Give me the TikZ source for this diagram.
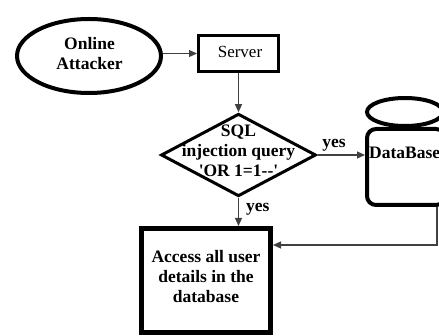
\documentclass[tikz,border=0pt]{standalone}
\usepackage{fontspec}
\setmainfont{Liberation Serif}
\usetikzlibrary{shapes.geometric,arrows.meta}
\tikzset{
  txt/.style={font=\fontsize{17.5}{20}\selectfont\bfseries, align=center, inner sep=0pt},
  plain/.style={font=\fontsize{17}{20}\selectfont, inner sep=0pt},
  arr/.style={draw=black!75, line width=1.1pt, -{Triangle[length=8pt,width=7pt]}},
  thickbox/.style={draw, rectangle, inner sep=0pt},
}
\begin{document}
\begin{tikzpicture}[x=1pt,y=-1pt]
\useasboundingbox (0,0) rectangle (439,336);
\clip (0,0) rectangle (439,336);
\fill[white] (0,0) rectangle (439,336);

% attacker
\node[draw, ellipse, line width=4pt, minimum width=144pt, minimum height=74pt, inner sep=0pt] (att) at (89,56) {};
\node[txt] (atttext) at (89.5,54) {Online\\Attacker};

% server
\node[thickbox, line width=3pt, minimum width=80pt, minimum height=36pt] (srv) at (238.5,53.5) {};
\node[plain] (srvtext) at (240,52) {Server};

% decision
\node[draw, diamond, line width=3pt, minimum width=155pt, minimum height=82.6pt, inner sep=0pt] (q) at (238.5,155) {};
\node[txt] (qtext) at (238.5,151) {SQL\\injection query\\\textquotesingle OR 1=1-{}-\textquotesingle};

% database cylinder
\node[draw, rectangle, rounded corners=9pt, line width=4pt, minimum width=78pt, minimum height=76pt, inner sep=0pt] (db) at (406,167) {};
\node[draw, ellipse, fill=white, line width=4pt, minimum width=76pt, minimum height=28pt, inner sep=0pt] (dbtop) at (405,112) {};
\node[txt, anchor=west] (dbtext) at (369,153) {DataBase};

% result
\node[thickbox, line width=5pt, minimum width=129pt, minimum height=104.5pt] (acc) at (206,280.7) {};
\node[txt] (acctext) at (206,277) {Access all user\\details in the\\database};

% connectors
\coordinate (dbout) at (437,207);
\draw[arr] (srv.west -| att.east) -- (srv.west);
\draw[arr] (srv.south) -- (q.north);
\draw[arr] (q.east) -- node[txt, pos=0.35, above=3pt] (yes1) {yes} (q.east -| db.west);
\draw[arr] (q.south) -- node[txt, pos=0.4, right=7pt] (yes2) {yes} (q.south |- acc.north);
\draw[arr] (dbout) |- ([yshift=35.7pt]acc.east);
\end{tikzpicture}
\end{document}
